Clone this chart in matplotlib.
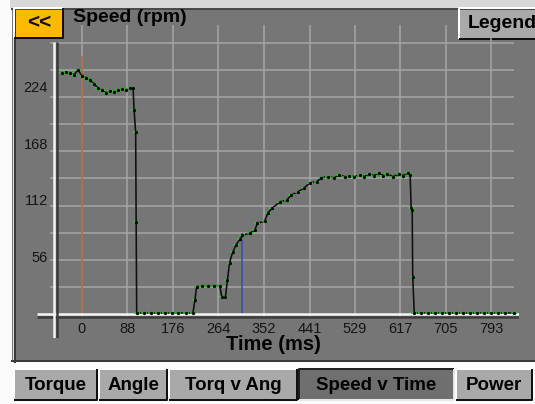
#!/usr/bin/env python3

import matplotlib
matplotlib.use('Agg')
import matplotlib.pyplot as plt
from matplotlib.patches import Rectangle

# speed trace (time in ms, speed in rpm)
time_ms = [-39, -31, -23, -15, -8, 0, 8, 15, 23, 31, 39, 46, 54, 62, 70, 77, 85, 93, 99,
           101, 104, 105, 106,
           120, 133, 147, 160, 174, 187, 201, 215,
           219, 222, 232, 244, 256, 267, 271, 278, 282, 286, 292, 298, 306, 311, 325,
           335, 340, 354, 360, 369, 383, 397, 406, 418, 431, 441, 455, 464, 476, 489,
           499, 509, 518, 528, 538, 547, 557, 566, 576, 584, 592, 603, 615, 623, 631,
           636, 638, 640, 641, 644,
           657, 671, 685, 698, 712, 725, 739, 752, 766, 779, 793, 806, 820, 837]
speed_rpm = [238, 239, 238, 236, 241, 235, 233, 231, 227, 223, 221, 218, 220, 219, 221, 222, 221, 223, 223,
             201, 179, 90, 0,
             0, 0, 0, 0, 0, 0, 0, 0,
             13, 26, 27, 27, 27, 27, 16, 16, 33, 50, 60, 67, 73, 77, 79,
             82, 89, 91, 99, 104, 110, 112, 117, 120, 124, 129, 130, 134, 135, 134,
             137, 135, 136, 135, 137, 135, 138, 136, 139, 136, 138, 135, 138, 136, 139,
             137, 104, 102, 36, 0,
             0, 0, 0, 0, 0, 0, 0, 0, 0, 0, 0, 0, 0, 0]

xticks = [0, 88, 176, 264, 352, 441, 529, 617, 705, 793]
yticks = [56, 112, 168, 224]
grid_rpm = [28 * k for k in range(1, 11)]

start_mark = 0       # orange cursor
start_top = 255
cursor_mark = 311    # blue cursor
cursor_top = 79

tabs = ['Torque', 'Angle', 'Torq v Ang', 'Speed v Time', 'Power']
tab_x = [(14, 97), (99, 167), (169, 297), (299, 454), (456, 532)]
selected_tab = 'Speed v Time'

W, H = 535, 404
FONT = 'Liberation Sans'


def px(v):
    # pixels -> points for line widths
    return v * 72.0 / 100


def bevel(ax, x0, y0, x1, y1, face, light, dark, lw=2):
    ax.add_patch(Rectangle((x0, y0), x1 - x0, y1 - y0, facecolor=face, edgecolor='none'))
    ax.plot([x0, x0, x1], [y1, y0, y0], color=light, lw=px(lw), solid_capstyle='butt')
    ax.plot([x0, x1, x1], [y1, y1, y0], color=dark, lw=px(lw), solid_capstyle='butt')


def main():
    fig = plt.figure(figsize=(W / 100, H / 100), dpi=100, facecolor='#fbfbfb')

    # background / frame in pixel coordinates
    bg = fig.add_axes([0, 0, 1, 1], zorder=0)
    bg.set_xlim(0, W)
    bg.set_ylim(H, 0)
    bg.axis('off')

    bg.add_patch(Rectangle((10, 0), W - 10, 8, facecolor='#d8d8d8', edgecolor='none'))
    bg.add_patch(Rectangle((12, 8), W - 12, 354, facecolor='#767676', edgecolor='none'))
    bg.plot([12.5, 12.5], [8, 362], color='#dcdcdc', lw=px(1))
    bg.plot([14.5, 14.5], [8, 362], color='#3a3a3a', lw=px(2))
    bg.plot([12, W], [8.5, 8.5], color='#4a4a4a', lw=px(2))
    bg.plot([12, W], [361, 361], color='#3a3a3a', lw=px(2))

    # buttons
    bevel(bg, 14, 8, 63, 38, '#ffba00', '#ffffff', '#101010')
    bg.text(39, 23, '<<', fontsize=15, fontweight='bold', family=FONT,
            ha='center', va='center', color='#101010')
    bevel(bg, 459, 8, 536, 39, '#a9a9a9', '#ffffff', '#101010')
    bg.text(468, 24, 'Legend', fontsize=14, fontweight='bold', family=FONT,
            ha='left', va='center', color='#000000')
    bg.text(73, 18, 'Speed (rpm)', fontsize=14, fontweight='bold', family=FONT,
            ha='left', va='center', color='#000000')
    bg.text(273, 345, 'Time (ms)', fontsize=14.5, fontweight='bold', family=FONT,
            ha='center', va='center', color='#000000')

    # tab row
    for name, (x0, x1) in zip(tabs, tab_x):
        if name == selected_tab:
            bevel(bg, x0, 369, x1, 400, '#6f6f6f', '#202020', '#e8e8e8')
        else:
            bevel(bg, x0, 369, x1, 400, '#a9a9a9', '#ffffff', '#101010')
        bg.text((x0 + x1) / 2, 385, name, fontsize=13.5, fontweight='bold', family=FONT,
                ha='center', va='center', color='#000000')

    # plot area: grid axes and data axes share the same box
    box = [37 / W, (H - 338) / H, (519 - 37) / W, (338 - 25) / H]
    xlim = (-87.2, 847)

    gax = fig.add_axes(box, zorder=1)
    gax.patch.set_visible(False)
    gax.axis('off')
    gax.set_xlim(*xlim)
    gax.set_ylim(-24.8, 298.6)
    gax.hlines(grid_rpm, -62, 837, color='#a6a6a6', lw=px(1.5))
    gax.vlines(xticks, -4, 298.6, color='#a6a6a6', lw=px(1.5))
    # axes drawn like the device: white line with dark shadow
    gax.plot([-87.2, 847], [-3, -3], color='#3c3c3c', lw=px(2.5), solid_capstyle='butt')
    gax.plot([-87.2, 847], [0, 0], color='#f4f4f4', lw=px(2.5), solid_capstyle='butt')
    gax.plot([-48.4, -48.4], [-24.8, 281], color='#3c3c3c', lw=px(2.5), solid_capstyle='butt')
    gax.plot([-55.2, -55.2], [-24.8, 281], color='#f4f4f4', lw=px(2.5), solid_capstyle='butt')

    ax = fig.add_axes(box, zorder=2)
    ax.patch.set_visible(False)
    for s in ax.spines.values():
        s.set_visible(False)
    ax.set_xlim(*xlim)
    ax.set_ylim(-24.8, 285.4)

    ax.vlines(start_mark, 0, start_top, color='#bf5f3a', lw=px(1.5))
    ax.vlines(cursor_mark, 0, cursor_top, color='#3446c4', lw=px(1.5))

    ax.plot(time_ms, speed_rpm, color='#101010', lw=px(1.6))
    ax.plot(time_ms, speed_rpm, ls='none', marker='_', ms=5, mew=px(1.5), color='#27d21e')
    ax.plot(time_ms, speed_rpm, ls='none', marker='o', ms=1.3, color='#000000')

    ax.set_xticks(xticks)
    ax.set_xticklabels([str(v) for v in xticks])
    ax.set_yticks(yticks)
    ax.set_yticklabels([str(v) for v in yticks])
    ax.tick_params(length=0, labelcolor='#151515', labelsize=10.5)
    ax.tick_params(axis='x', pad=-11.5)
    ax.tick_params(axis='y', pad=-8)
    for lab in ax.get_xticklabels() + ax.get_yticklabels():
        lab.set_family(FONT)

    fig.savefig('out.png', dpi=100, facecolor=fig.get_facecolor())


if __name__ == '__main__':
    main()
